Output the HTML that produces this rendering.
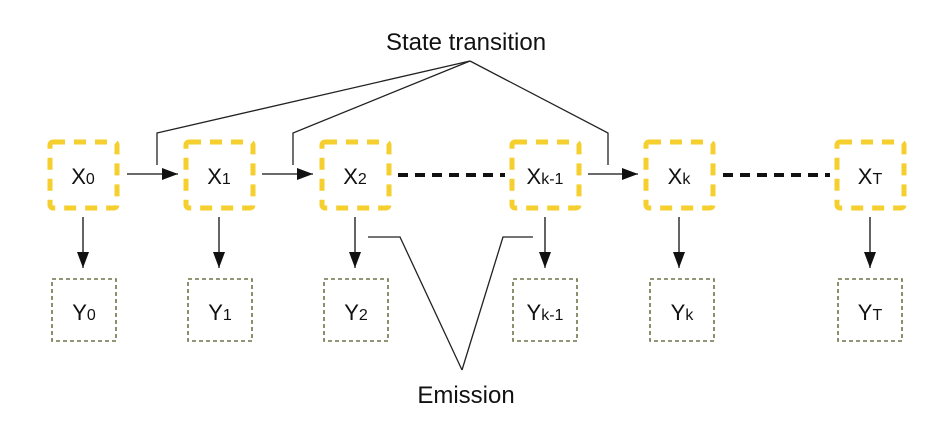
<!DOCTYPE html>
<html><head><meta charset="utf-8"><style>
body{margin:0;background:#fff}
text{font-family:"Liberation Sans","DejaVu Sans",sans-serif;fill:#111}
</style></head><body>
<svg width="946" height="443" viewBox="0 0 946 443">
<defs><marker id="ah" viewBox="0 0 16 12" refX="16" refY="6" markerWidth="16" markerHeight="12" markerUnits="userSpaceOnUse" orient="auto"><path d="M0,0L16,6L0,12z" fill="#111"/></marker></defs>
<g id="g"></g>
<text x="466" y="50" font-size="24" text-anchor="middle">State transition</text>
<text x="466" y="403" font-size="24" text-anchor="middle">Emission</text>
<g stroke="#222" stroke-width="1.3" fill="none">
<polyline points="470,61 157,133 157,165"/>
<polyline points="470,61 293,133 293,165"/>
<polyline points="470,61 608,133 608,165"/>
<polyline points="368,237 400,237 462,370"/>
<polyline points="533,237 503,237 462,370"/>
</g>
<g stroke="#111" stroke-width="1.3">
<line x1="127" y1="174" x2="178" y2="174" marker-end="url(#ah)"/>
<line x1="262" y1="174" x2="313" y2="174" marker-end="url(#ah)"/>
<line x1="588" y1="174" x2="638" y2="174" marker-end="url(#ah)"/>
</g>
<g stroke="#111" stroke-width="4" stroke-dasharray="10,7">
<line x1="398" y1="175" x2="505" y2="175"/>
<line x1="723" y1="175" x2="830" y2="175"/>
</g>
</svg>
<script>
const g=document.getElementById('g');
const ns='http://www.w3.org/2000/svg';
const xs=[[50,"0"],[186,"1"],[322,"2"],[512,"k-1"],[646,"k"],[837,"T"]];
const ys=[[52,"0"],[188,"1"],[324,"2"],[513,"k-1"],[650,"k"],[838,"T"]];
function mk(t,a){const e=document.createElementNS(ns,t);for(const k in a)e.setAttribute(k,a[k]);g.appendChild(e);return e;}
xs.forEach(([x,s],i)=>{
 const r=mk('rect',{x:x,y:142,width:67,height:66,rx:3,fill:'none',stroke:'#f5cf2e','stroke-width':5,'stroke-dasharray':'12,9'});
 
 
 const t=mk('text',{x:x+33,y:184,'font-size':22,'text-anchor':'middle'});
 t.innerHTML='X<tspan font-size="16">'+s+'</tspan>';
 
 
 const cx=x+33;
 const a=mk('line',{x1:cx,y1:217,x2:cx,y2:268,stroke:'#111','stroke-width':1.3,'marker-end':'url(#ah)'});
 
 
 const [yx]=ys[i];
 const b=mk('rect',{x:yx,y:279,width:64,height:62,fill:'none',stroke:'#6b7548','stroke-width':1.6,'stroke-dasharray':'4,3'});
 
 
 const u=mk('text',{x:yx+32,y:320,'font-size':22,'text-anchor':'middle'});
 u.innerHTML='Y<tspan font-size="16">'+s+'</tspan>';
 
 
});
</script>
</body></html>
